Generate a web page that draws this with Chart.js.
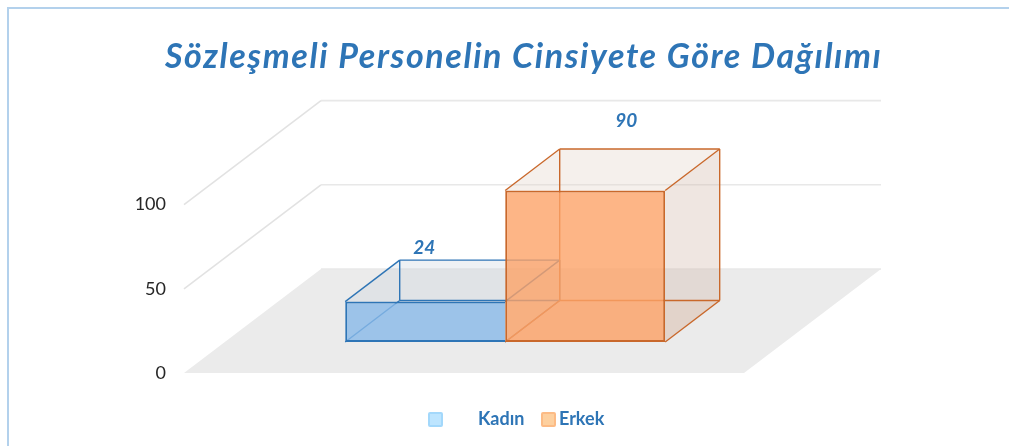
<!DOCTYPE html>
<html lang="tr">
<head>
  <meta charset="UTF-8">
  <title>Sözleşmeli Personelin Cinsiyete Göre Dağılımı</title>
  <script src="https://cdn.jsdelivr.net/npm/chart.js"></script>
  <style>
    html, body {
      margin: 0;
      width: 1009px;
      height: 446px;
      overflow: hidden;
      background: #fff;
      font-family: Lato, sans-serif;
    }
    #cerceve {
      position: absolute;
      left: 7px;
      top: 7px;
      right: -5px;
      bottom: -5px;
      border: 2px solid #b3d1ec;
    }
    #grafik {
      position: absolute;
      left: 0;
      top: 0;
    }
    #baslik {
      position: absolute;
      left: 165px;
      top: 35px;
      width: 740px;
      margin: 0;
      font-size: 34px;
      line-height: 40px;
      font-weight: 700;
      font-style: italic;
      letter-spacing: 1.6px;
      white-space: nowrap;
      color: #2e75b6;
    }
    .lejant {
      position: absolute;
      top: 407px;
      font-size: 18px;
      line-height: 22px;
      font-weight: 700;
      color: #2e75b6;
    }
    .kutu {
      position: absolute;
      top: 412px;
      width: 11px;
      height: 11px;
      border-radius: 2px;
      border: 2px solid;
    }
  </style>
</head>
<body>
  <div id="cerceve"></div>
  <canvas id="grafik" width="1009" height="446"></canvas>
  <h2 id="baslik">Sözleşmeli Personelin Cinsiyete Göre Dağılımı</h2>
  <div class="kutu" style="left:428px;background:#bde5ff;border-color:#a3d8fb"></div>
  <div class="lejant" id="lejant0" style="left:478px"></div>
  <div class="kutu" style="left:541px;background:#fdd09f;border-color:#fcbb85"></div>
  <div class="lejant" id="lejant1" style="left:559px"></div>

  <script>
    const kategoriler = [''];
    const seriAdlari = ['Kadın', 'Erkek'];
    const kadin = [24];
    const erkek = [90];
    const eksenEn = 100;
    const eksenAdim = 50;

    // how far the 3D room and the bars recede
    const odaX = 137, odaY = 104;
    const onX = 41.2, onY = 31;
    const derinX = 54.5, derinY = 41.5;

    // hand placed data labels, relative to the front top centre of the bar
    const etiketKayma = [[-1, -54], [41, -70]];

    const mavi = '#2e75b6';
    const turuncu = '#c9682b';

    document.getElementById('lejant0').textContent = seriAdlari[0];
    document.getElementById('lejant1').textContent = seriAdlari[1];

    function cokgen(ctx, noktalar, dolgu) {
      ctx.beginPath();
      noktalar.forEach((n, i) => i ? ctx.lineTo(n[0], n[1]) : ctx.moveTo(n[0], n[1]));
      ctx.closePath();
      ctx.fillStyle = dolgu;
      ctx.fill();
    }

    function cizgi(ctx, a, b, renk, kalin) {
      ctx.beginPath();
      ctx.moveTo(a[0], a[1]);
      ctx.lineTo(b[0], b[1]);
      ctx.strokeStyle = renk;
      ctx.lineWidth = kalin;
      ctx.stroke();
    }

    // back, top, side and floor of one bar; the front face is the real bar element
    function kutuCiz(ctx, bar, renk, ust, yan, alt) {
      const sol = bar.x - bar.width / 2 + onX;
      const sag = bar.x + bar.width / 2 + onX;
      const tepe = bar.y - onY;
      const taban = bar.base - onY;
      const arkaSol = sol + derinX, arkaSag = sag + derinX;
      const arkaTepe = tepe - derinY, arkaTaban = taban - derinY;

      if (alt) cokgen(ctx, [[sol, taban], [sag, taban], [arkaSag, arkaTaban], [arkaSol, arkaTaban]], alt);
      cokgen(ctx, [[sol, tepe], [sag, tepe], [arkaSag, arkaTepe], [arkaSol, arkaTepe]], ust);
      cokgen(ctx, [[sag, tepe], [arkaSag, arkaTepe], [arkaSag, arkaTaban], [sag, taban]], yan);

      cizgi(ctx, [sol, tepe], [arkaSol, arkaTepe], renk, 1.4);
      cizgi(ctx, [sag, tepe], [arkaSag, arkaTepe], renk, 1.4);
      cizgi(ctx, [arkaSol, arkaTepe], [arkaSag, arkaTepe], renk, 1.4);
      cizgi(ctx, [arkaSag, arkaTepe], [arkaSag, arkaTaban], renk, 1.4);
      cizgi(ctx, [arkaSol, arkaTepe], [arkaSol, arkaTaban], renk, 1.4);
      cizgi(ctx, [arkaSol, arkaTaban], [arkaSag, arkaTaban], renk, 1.4);
      cizgi(ctx, [sol, taban], [arkaSol, arkaTaban], renk, 1.4);
      cizgi(ctx, [sag, taban], [arkaSag, arkaTaban], renk, 1.4);
    }

    const ucBoyut = {
      id: 'ucBoyut',
      beforeDatasetsDraw(chart) {
        const { ctx, chartArea: alan, scales: { y } } = chart;
        ctx.save();

        // floor
        cokgen(ctx, [
          [alan.left, y.getPixelForValue(0)],
          [alan.right, y.getPixelForValue(0)],
          [alan.right + odaX, y.getPixelForValue(0) - odaY],
          [alan.left + odaX, y.getPixelForValue(0) - odaY]
        ], '#ebebeb');

        // grid runs along the left side and then the back wall
        y.ticks.forEach(t => {
          const py = y.getPixelForValue(t.value);
          const arka = [alan.left + odaX, py - odaY];
          if (t.value > 0) cizgi(ctx, [alan.left, py], arka, '#e2e2e2', 1.6);
          cizgi(ctx, arka, [alan.right + odaX, py - odaY], '#e8e8e8', 1.6);
        });

        const b0 = chart.getDatasetMeta(0).data[0];
        const b1 = chart.getDatasetMeta(1).data[0];
        kutuCiz(ctx, b0, mavi, 'rgba(198,208,218,0.3)', 'rgba(198,208,218,0.3)', null);
        kutuCiz(ctx, b1, turuncu, 'rgba(226,212,200,0.35)', 'rgba(209,184,169,0.35)', 'rgba(240,150,90,0.1)');
        ctx.restore();
      },
      beforeDatasetDraw(chart) {
        chart.ctx.save();
        chart.ctx.translate(onX, -onY);
      },
      afterDatasetDraw(chart) {
        chart.ctx.restore();
      },
      afterDatasetsDraw(chart) {
        const { ctx } = chart;
        ctx.save();
        ctx.font = 'italic 700 19px Lato';
        ctx.fillStyle = mavi;
        ctx.textAlign = 'center';
        ctx.textBaseline = 'middle';
        chart.data.datasets.forEach((ds, i) => {
          const bar = chart.getDatasetMeta(i).data[0];
          ctx.fillText(ds.data[0], bar.x + onX + etiketKayma[i][0], bar.y - onY + etiketKayma[i][1]);
        });
        ctx.restore();
      }
    };

    new Chart(document.getElementById('grafik'), {
      type: 'bar',
      data: {
        labels: kategoriler,
        datasets: [
          {
            label: seriAdlari[0],
            data: kadin,
            backgroundColor: 'rgba(136,185,232,0.8)',
            borderColor: mavi,
            borderWidth: 2,
            borderSkipped: 'right'
          },
          {
            label: seriAdlari[1],
            data: erkek,
            backgroundColor: 'rgba(252,162,104,0.8)',
            borderColor: turuncu,
            borderWidth: 2,
            borderSkipped: false
          }
        ]
      },
      options: {
        responsive: false,
        animation: false,
        clip: false,
        barPercentage: 1,
        categoryPercentage: 0.5714,
        layout: {
          autoPadding: false,
          padding: { left: 0, top: 204.6, right: 265, bottom: 73 }
        },
        plugins: {
          legend: { display: false },
          title: { display: false },
          tooltip: { enabled: false }
        },
        scales: {
          x: { display: false },
          y: {
            min: 0,
            max: eksenEn,
            afterFit(scale) { scale.width = 184; },
            grid: { display: false },
            border: { display: false },
            ticks: {
              stepSize: eksenAdim,
              padding: 10,
              color: '#262626',
              font: { family: 'Lato', size: 18 }
            }
          }
        }
      },
      plugins: [ucBoyut]
    });
  </script>
</body>
</html>
